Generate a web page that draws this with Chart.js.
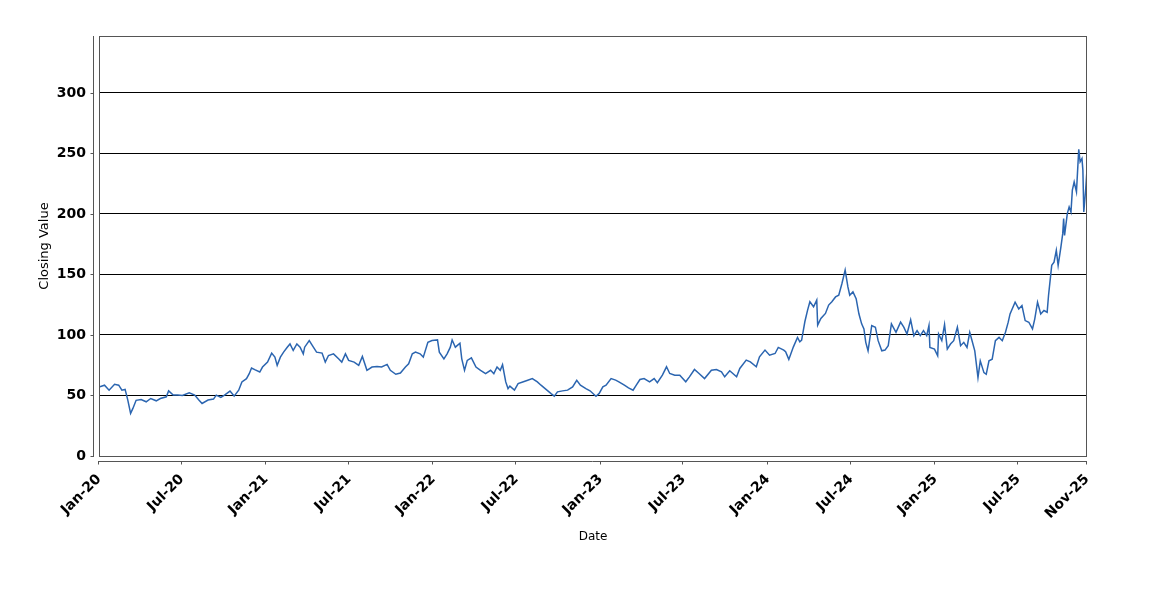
<!DOCTYPE html>
<html>
<head>
<meta charset="utf-8">
<title>Closing Value</title>
<script src="https://cdn.jsdelivr.net/npm/chart.js@4.4.1/dist/chart.umd.min.js"></script>
<style>
  html, body { margin: 0; padding: 0; background: #fff; }
  #chart { display: block; }
</style>
</head>
<body>
<canvas id="chart" width="1150" height="600"></canvas>
<script>
// closing values, roughly one point per week or two
const dates = [
  '2020-01-02','2020-01-14','2020-01-24','2020-02-05','2020-02-14','2020-02-21','2020-02-28','2020-03-05',
  '2020-03-11','2020-03-16','2020-03-23','2020-04-03','2020-04-14','2020-04-24','2020-05-06','2020-05-15',
  '2020-05-28','2020-06-02','2020-06-12','2020-06-22','2020-07-02','2020-07-17','2020-07-29','2020-08-07',
  '2020-08-14','2020-08-27','2020-09-08','2020-09-14','2020-09-24','2020-10-02','2020-10-14','2020-10-23',
  '2020-11-02','2020-11-09','2020-11-19','2020-11-25','2020-11-30','2020-12-07','2020-12-18','2020-12-24',
  '2021-01-04','2021-01-13','2021-01-20','2021-01-25','2021-02-01','2021-02-08','2021-02-16','2021-02-22',
  '2021-03-01','2021-03-09','2021-03-16','2021-03-23','2021-03-26','2021-04-05','2021-04-14','2021-04-21',
  '2021-05-03','2021-05-10','2021-05-17','2021-05-28','2021-06-08','2021-06-15','2021-06-23','2021-06-30',
  '2021-07-12','2021-07-22','2021-07-30','2021-08-09','2021-08-20','2021-08-31','2021-09-10','2021-09-22',
  '2021-09-29','2021-10-11','2021-10-21','2021-11-01','2021-11-08','2021-11-16','2021-11-23','2021-12-03',
  '2021-12-10','2021-12-20','2021-12-29','2022-01-10','2022-01-14','2022-01-24','2022-01-31','2022-02-07',
  '2022-02-11','2022-02-18','2022-02-28','2022-03-04','2022-03-10','2022-03-16','2022-03-25','2022-04-04',
  '2022-04-14','2022-04-25','2022-05-06','2022-05-13','2022-05-20','2022-05-27','2022-06-01','2022-06-08',
  '2022-06-13','2022-06-17','2022-06-27','2022-07-05','2022-07-15','2022-07-26','2022-08-05','2022-08-16',
  '2022-08-24','2022-09-02','2022-09-15','2022-09-22','2022-09-29','2022-10-10','2022-10-21','2022-11-01',
  '2022-11-10','2022-11-18','2022-11-30','2022-12-09','2022-12-22','2022-12-29','2023-01-06','2023-01-13',
  '2023-01-24','2023-02-03','2023-02-10','2023-02-22','2023-03-03','2023-03-13','2023-03-20','2023-03-28',
  '2023-04-06','2023-04-18','2023-04-28','2023-05-05','2023-05-16','2023-05-25','2023-06-01','2023-06-12',
  '2023-06-23','2023-07-06','2023-07-14','2023-07-25','2023-08-04','2023-08-16','2023-08-31','2023-09-11',
  '2023-09-22','2023-09-29','2023-10-10','2023-10-25','2023-11-01','2023-11-15','2023-11-24','2023-12-07',
  '2023-12-14','2023-12-26','2024-01-05','2024-01-17','2024-01-24','2024-02-05','2024-02-09','2024-02-16',
  '2024-02-26','2024-03-06','2024-03-11','2024-03-15','2024-03-22','2024-03-28','2024-04-02','2024-04-10',
  '2024-04-17','2024-04-19','2024-04-26','2024-05-06','2024-05-13','2024-05-20','2024-05-28','2024-06-04',
  '2024-06-11','2024-06-18','2024-06-24','2024-06-28','2024-07-05','2024-07-12','2024-07-18','2024-07-24',
  '2024-07-29','2024-08-02','2024-08-07','2024-08-15','2024-08-23','2024-08-29','2024-09-06','2024-09-13',
  '2024-09-20','2024-09-27','2024-10-07','2024-10-17','2024-10-24','2024-10-31','2024-11-08','2024-11-15',
  '2024-11-22','2024-11-29','2024-12-06','2024-12-13','2024-12-18','2024-12-20','2024-12-30','2025-01-06',
  '2025-01-08','2025-01-15','2025-01-21','2025-01-27','2025-02-03','2025-02-10','2025-02-18','2025-02-25',
  '2025-03-04','2025-03-11','2025-03-17','2025-03-21','2025-03-28','2025-04-04','2025-04-09','2025-04-17',
  '2025-04-22','2025-04-28','2025-05-05','2025-05-12','2025-05-20','2025-05-27','2025-06-03','2025-06-09',
  '2025-06-13','2025-06-24','2025-07-02','2025-07-09','2025-07-16','2025-07-24','2025-08-01','2025-08-06',
  '2025-08-12','2025-08-19','2025-08-26','2025-09-02','2025-09-05','2025-09-10','2025-09-12','2025-09-17',
  '2025-09-22','2025-09-26','2025-10-02','2025-10-06','2025-10-08','2025-10-10','2025-10-16','2025-10-20',
  '2025-10-24','2025-10-27','2025-10-31','2025-11-05','2025-11-10','2025-11-13','2025-11-17','2025-11-19',
  '2025-11-21','2025-11-25','2025-11-28'
];

const closes = [
  57, 58.5, 54.4, 59.3, 58.5, 54.4, 55, 46,
  35.2, 39.3, 46, 46.7, 44.8, 47.5, 45.6, 47.5,
  48.9, 53.8, 50.3, 50.3, 50, 52.2, 50.3, 46.2,
  43.4, 46.2, 47, 50.3, 48.4, 50.3, 53.6, 49.5,
  54.4, 61.2, 63.9, 68, 72.7, 71.3, 69.4, 73.5,
  77.6, 85, 81.7, 74.9, 81.7, 85.8, 89.9, 92.6,
  87.2, 92.6, 89.9, 84.4, 89.9, 95.4, 89.9, 85.8,
  85, 77.6, 83, 84.4, 80.3, 77.6, 84.4, 79,
  77.6, 74.9, 82.2, 70.8, 73.5, 74, 73.5, 75.7,
  70.8, 67.5, 68.6, 73.5, 76.2, 84.4, 85.8, 84.4,
  81.7, 94, 95.4, 95.9, 85.8, 80.3, 84.4, 89.9,
  95.9, 89.9, 93.2, 80.3, 70.8, 79, 81.1, 73.5,
  70.8, 68, 70.8, 68, 73.5, 70.8, 75.4, 61.2,
  55.7, 57.7, 54.4, 59.8, 61.2, 62.6, 63.9, 61.2,
  58.5, 55.7, 51.6, 49.5, 53, 53.8, 54.4, 57.1,
  62.6, 58.5, 55.7, 53.9, 49.4, 51.7, 57.2, 58.5,
  64, 62.7, 61.3, 58.5, 56.3, 54.4, 58.5, 63.2,
  64, 61.3, 64, 60.5, 66.8, 73.7, 68.2, 66.8,
  66.8, 61.3, 65.4, 71.5, 68.2, 64, 70.9, 71.5,
  69.6, 65.4, 70.4, 65.4, 72.3, 79.2, 77.8, 73.7,
  82, 87.5, 83.3, 84.7, 89.7, 87.5, 86.1, 79.8,
  90.2, 97.9, 94.4, 95.7, 110.9, 120.5, 127.4, 123.3,
  128.8, 108.1, 113.6, 117.8, 124.7, 127.4, 131.4, 132.8,
  142.5, 153.6, 139.7, 132.8, 135.6, 130, 117.5, 109.2,
  105, 93.9, 86.9, 107.8, 106.4, 95.3, 86.9, 87.5,
  91.1, 109.2, 102.2, 110.6, 106.4, 100.8, 112.5, 99.4,
  103.6, 99.4, 103.6, 99.4, 107.8, 89.7, 88.3, 82.8,
  100.8, 95.3, 108.6, 88.3, 92.5, 95.3, 106.4, 91.1,
  93.9, 89.7, 102.2, 96.7, 86.9, 64.7, 78.6, 68.9,
  67.5, 78.6, 80, 95.3, 98, 95.3, 102.2, 110.6,
  117.4, 127.1, 121.5, 124.3, 111.9, 110.5, 105, 113.3,
  127.1, 117.4, 120.2, 118.8, 132.6, 150.5, 157.5, 160.2,
  169.9, 157.5, 172.6, 183.7, 196.1, 182.3, 200.3, 205.8,
  201.6, 219.6, 226.5, 218.2, 253.3, 243.1, 245.8, 236.2,
  201.6, 219.6, 236.7
];

const xTickDates = [
  '2020-01-02','2020-07-01','2021-01-01','2021-07-01','2022-01-01','2022-07-01',
  '2023-01-01','2023-07-01','2024-01-01','2024-07-01','2025-01-01','2025-07-01','2025-11-28'
];
const xTickLabels = [
  'Jan-20','Jul-20','Jan-21','Jul-21','Jan-22','Jul-22',
  'Jan-23','Jul-23','Jan-24','Jul-24','Jan-25','Jul-25','Nov-25'
];
const yTicks = [0, 50, 100, 150, 200, 250, 300];

const Y_MAX = 347;
const TICK_FONT = { family: 'DejaVu Sans', size: 14, weight: 'bold' };

function dayNum(s) {
  const [y, m, d] = s.split('-').map(Number);
  return (Date.UTC(y, m - 1, d) - Date.UTC(2020, 0, 1)) / 86400000;
}

const points = dates.map((d, i) => ({ x: dayNum(d), y: closes[i] }));

// plot frame plus the offset axis lines and their short tick marks
const framePlugin = {
  id: 'frame',
  afterDraw(chart) {
    const { ctx, chartArea: a, scales } = chart;
    ctx.save();
    ctx.strokeStyle = '#555';
    ctx.lineWidth = 1;
    ctx.strokeRect(Math.round(a.left) + 0.5, Math.round(a.top) + 0.5,
      Math.round(a.right - a.left) - 1, Math.round(a.bottom - a.top));

    const yLineX = Math.round(a.left) - 5.5;
    const xLineY = Math.round(a.bottom) + 5.5;
    ctx.beginPath();
    ctx.moveTo(yLineX, a.top);
    ctx.lineTo(yLineX, a.bottom + 1);
    ctx.moveTo(a.left - 1, xLineY);
    ctx.lineTo(a.right, xLineY);
    scales.y.ticks.forEach(t => {
      const py = Math.round(scales.y.getPixelForValue(t.value)) + 0.5;
      ctx.moveTo(yLineX - 3, py);
      ctx.lineTo(yLineX, py);
    });
    scales.x.ticks.forEach(t => {
      const px = Math.round(scales.x.getPixelForValue(t.value)) - 0.5;
      ctx.moveTo(px, xLineY);
      ctx.lineTo(px, xLineY + 3);
    });
    ctx.stroke();
    ctx.restore();
  },
};

new Chart(document.getElementById('chart'), {
  type: 'line',
  data: {
    datasets: [{
      label: 'Closing Value',
      data: points,
      borderColor: '#2b65b0',
      borderWidth: 1.5,
      pointRadius: 0,
      tension: 0,
      fill: false,
    }],
  },
  options: {
    responsive: false,
    animation: false,
    devicePixelRatio: 1,
    layout: { padding: { left: 0, top: 36, right: 63, bottom: 55 } },
    plugins: { legend: { display: false }, tooltip: { enabled: false } },
    scales: {
      x: {
        type: 'linear',
        min: dayNum(dates[0]),
        max: dayNum(dates[dates.length - 1]),
        afterBuildTicks: scale => { scale.ticks = xTickDates.map(d => ({ value: dayNum(d) })); },
        afterFit: scale => { scale.height = 89; },
        grid: { display: false },
        border: { display: false },
        ticks: {
          autoSkip: false,
          minRotation: 45,
          maxRotation: 45,
          padding: 7,
          color: '#000',
          font: TICK_FONT,
          callback: (v, i) => xTickLabels[i],
        },
        title: {
          display: true,
          text: 'Date',
          color: '#000',
          font: { family: 'DejaVu Sans', size: 12 },
          padding: { top: 0, bottom: 1 },
        },
      },
      y: {
        min: 0,
        max: Y_MAX,
        afterBuildTicks: scale => { scale.ticks = yTicks.map(v => ({ value: v })); },
        afterFit: scale => { scale.width = 99; },
        grid: {
          color: c => (c.tick && c.tick.value === 0 ? 'rgba(0,0,0,0)' : '#000'),
          lineWidth: 1,
          drawTicks: false,
        },
        border: { display: false },
        ticks: {
          padding: 13,
          color: '#000',
          font: TICK_FONT,
          callback: v => String(v),
        },
        title: {
          display: true,
          text: 'Closing Value',
          color: '#000',
          font: { family: 'DejaVu Sans', size: 13 },
          padding: { top: 37, bottom: 0 },
        },
      },
    },
  },
  plugins: [framePlugin],
});
</script>
</body>
</html>
